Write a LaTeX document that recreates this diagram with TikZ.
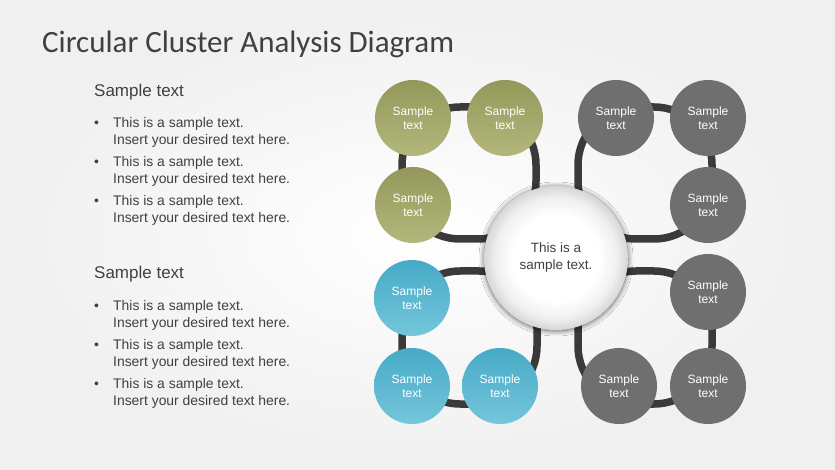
\documentclass[tikz,border=0pt]{standalone}
\usepackage{fontspec}
\setmainfont{Liberation Sans}
\newfontfamily\titlefont{Carlito}
\usetikzlibrary{shadows.blur}

\definecolor{clgreenTop}{HTML}{93985A}
\definecolor{clgreenBot}{HTML}{B3B77C}
\definecolor{clblueTop}{HTML}{47AAC6}
\definecolor{clblueBot}{HTML}{74C6DB}
\definecolor{clgray}{HTML}{6F6F6F}
\definecolor{cllink}{HTML}{3A3A3A}
\definecolor{cltext}{HTML}{404040}
\pgfdeclareradialshading{hubshade}{\pgfpoint{0bp}{0bp}}{color(0bp)=(white); color(15bp)=(white); color(21bp)=(black!6); color(25bp)=(black!16); color(50bp)=(black!16)}

\tikzset{
  link/.style={draw=cllink, line width=7.5pt, rounded corners=58pt},
  dot/.style={circle, minimum size=76pt, inner sep=0pt, align=center, text=white,
    font=\fontsize{12}{14.5}\selectfont},
  greendot/.style={dot, top color=clgreenTop, bottom color=clgreenBot},
  bluedot/.style={dot, top color=clblueTop, bottom color=clblueBot},
  graydot/.style={dot, fill=clgray},
  head/.style={anchor=base west, inner sep=0pt, text=cltext, font=\fontsize{17}{20}\selectfont},
  bul/.style={anchor=base west, inner sep=0pt, text=cltext, font=\fontsize{13.9}{17}\selectfont},
  bultext/.style={bul, align=left}
}

\begin{document}
\begin{tikzpicture}[x=1pt, y=-1pt]
\shade [inner color=white, outer color=gray!12] (0,0) rectangle (835,470);
\useasboundingbox (0,0) rectangle (835,470);
\node [anchor=base west, inner sep=0pt, text=cltext, font=\titlefont\fontsize{31}{36}\selectfont] (T) at (42,53) {Circular Cluster Analysis Diagram};

\node [head] (H1) at (94,97) {Sample text};
\node [bul] (D1) at (94,128) {•};
\node [bultext] (L1) at (113,145) {This is a sample text.\\Insert your desired text here.};
\node [bul] (D2) at (94,167) {•};
\node [bultext] (L2) at (113,184) {This is a sample text.\\Insert your desired text here.};
\node [bul] (D3) at (94,206) {•};
\node [bultext] (L3) at (113,223) {This is a sample text.\\Insert your desired text here.};

\node [head] (H2) at (94,279) {Sample text};
\node [bul] (D4) at (94,310) {•};
\node [bultext] (L4) at (113,327) {This is a sample text.\\Insert your desired text here.};
\node [bul] (D5) at (94,349) {•};
\node [bultext] (L5) at (113,366) {This is a sample text.\\Insert your desired text here.};
\node [bul] (D6) at (94,388) {•};
\node [bultext] (L6) at (113,405) {This is a sample text.\\Insert your desired text here.};

\coordinate (tlA) at (402,107);
\coordinate (tlB) at (536,239);
\coordinate (trA) at (578,107);
\coordinate (trB) at (712,239);
\coordinate (blA) at (402,271);
\coordinate (blB) at (537,404);
\coordinate (brA) at (578,271);
\coordinate (brB) at (712,404);
\draw [link] (tlA) rectangle (tlB);
\draw [link] (trA) rectangle (trB);
\draw [link] (blA) rectangle (blB);
\draw [link] (brA) rectangle (brB);

\node [circle, minimum size=144pt, inner sep=0pt, shading=hubshade,
  blur shadow={shadow xshift=0pt, shadow yshift=-1pt, shadow blur radius=5pt, shadow blur steps=16, shadow scale=1.0, shadow opacity=60},
  align=center, text=cltext, font=\fontsize{13.5}{17}\selectfont] (C) at (556,258) {This is a\\sample text.};

\node [greendot] (G1) at (413,118) {Sample\\text};
\node [greendot] (G2) at (505,118) {Sample\\text};
\node [greendot] (G3) at (413,205) {Sample\\text};
\node [graydot] (K1) at (616,118) {Sample\\text};
\node [graydot] (K2) at (708,118) {Sample\\text};
\node [graydot] (K3) at (708,205) {Sample\\text};
\node [bluedot] (B1) at (412,298) {Sample\\text};
\node [bluedot] (B2) at (412,386) {Sample\\text};
\node [bluedot] (B3) at (500,386) {Sample\\text};
\node [graydot] (K4) at (708,292) {Sample\\text};
\node [graydot] (K5) at (619,386) {Sample\\text};
\node [graydot] (K6) at (708,386) {Sample\\text};
\end{tikzpicture}
\end{document}
